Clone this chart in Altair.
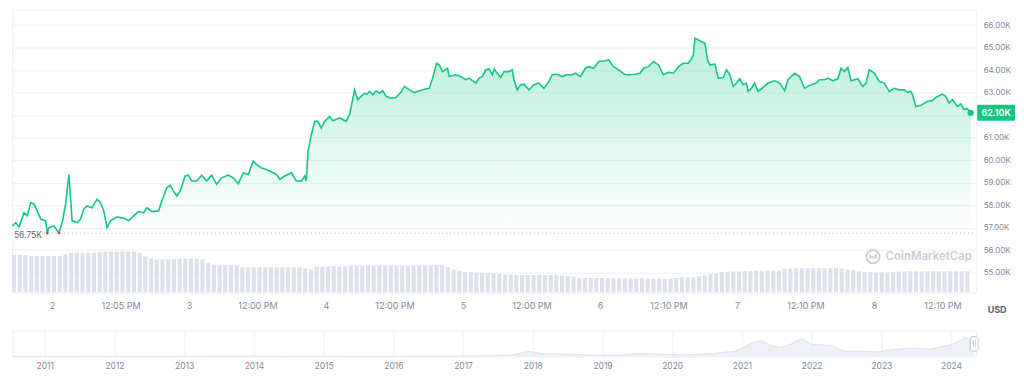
import altair as alt
import pandas as pd

# ---------------- data ----------------
# price: hours since 2 May 00:00, value in thousands of USD
price_hours = [
    -6.9, -6.34, -5.76, -4.89, -4.31, -3.72, -3.14, -2.57, -1.97, -1.10,
    -0.82, -0.52, 0.35, 1.22, 1.80, 2.39, 2.97, 3.54, 4.42, 5.01,
    5.59, 6.16, 7.03, 7.91, 8.50, 9.08, 9.65, 10.25, 11.40, 12.57,
    13.44, 14.31, 15.19, 16.06, 16.63, 17.51, 18.68, 19.25, 20.13, 20.72,
    21.30, 21.87, 22.46, 23.34, 23.91, 24.49, 25.36, 26.24, 27.11, 27.98,
    28.85, 29.73, 30.90, 31.77, 32.64, 33.51, 34.39, 35.26, 35.84, 36.71,
    37.58, 38.45, 39.33, 39.92, 40.79, 41.94, 42.82, 43.69, 44.28, 44.56,
    44.86, 45.44, 46.03, 46.60, 47.18, 47.77, 48.65, 49.22, 50.39, 50.97,
    51.54, 52.14, 53.01, 53.59, 54.16, 54.76, 55.16, 55.63, 56.21, 56.78,
    57.37, 57.95, 58.53, 59.40, 60.27, 61.15, 61.74, 62.61, 63.48, 64.36,
    65.23, 66.10, 66.68, 67.38, 67.85, 68.42, 69.30, 69.59, 70.75, 71.62,
    72.49, 73.08, 74.24, 74.83, 75.41, 75.98, 76.57, 77.15, 77.45, 78.02,
    78.60, 79.19, 80.07, 80.64, 80.94, 81.51, 82.09, 82.68, 83.56, 84.43,
    85.30, 86.18, 87.05, 87.62, 88.50, 89.37, 90.24, 91.11, 91.69, 92.56,
    93.44, 94.03, 94.90, 95.78, 96.93, 97.52, 98.39, 99.27, 100.42, 101.29,
    102.17, 103.04, 103.63, 104.50, 105.38, 106.25, 107.12, 108.00, 108.87, 109.74,
    110.61, 111.49, 112.06, 112.36, 112.64, 113.23, 113.81, 114.38, 114.85, 115.25,
    116.13, 116.72, 117.59, 118.17, 118.75, 119.34, 119.92, 120.49, 121.08, 121.66,
    121.96, 122.54, 123.11, 123.70, 124.58, 125.45, 126.60, 127.48, 128.35, 128.94,
    130.09, 130.96, 131.84, 133.01, 133.88, 134.46, 135.33, 135.92, 136.80, 137.67,
    138.24, 138.82, 139.41, 139.99, 141.16, 142.03, 142.61, 143.18, 144.06, 144.93,
    145.80, 146.67, 147.55, 148.42, 149.29, 149.89, 150.46, 150.76, 151.33, 152.21,
    153.38, 154.25, 154.83, 156.00, 156.58, 157.16, 157.75, 158.62, 159.20, 159.78,
    160.37, 160.94,
]
price_values = [
    57.07, 57.22, 57.03, 57.66, 57.52, 58.11, 58.04, 57.74, 57.38, 57.30,
    56.75, 57.00, 57.07, 56.76, 57.22, 58.05, 59.36, 57.30, 57.22, 57.37,
    57.83, 57.96, 57.88, 58.26, 58.11, 57.74, 57.00, 57.30, 57.47, 57.42,
    57.30, 57.52, 57.71, 57.66, 57.88, 57.71, 57.74, 58.18, 58.77, 58.88,
    58.62, 58.40, 58.62, 59.29, 59.33, 59.07, 59.07, 59.33, 59.07, 59.33,
    58.92, 59.21, 59.33, 59.21, 58.95, 59.43, 59.36, 59.95, 59.81, 59.65,
    59.58, 59.48, 59.36, 59.14, 59.29, 59.43, 59.07, 59.07, 59.29, 59.07,
    60.39, 61.13, 61.72, 61.72, 61.42, 61.72, 61.94, 61.75, 61.87, 61.80,
    61.72, 62.02, 63.12, 62.68, 62.83, 62.97, 62.92, 63.05, 62.90, 63.08,
    62.97, 63.08, 62.83, 62.75, 62.78, 63.02, 63.27, 63.12, 63.00, 63.08,
    63.15, 63.19, 63.64, 64.30, 64.23, 63.93, 64.08, 63.71, 63.79, 63.71,
    63.57, 63.64, 63.42, 63.64, 63.71, 64.01, 64.05, 63.79, 64.05, 63.86,
    63.67, 63.93, 63.93, 64.01, 63.57, 63.12, 63.35, 63.37, 63.12, 63.35,
    63.42, 63.19, 63.49, 63.79, 63.81, 63.71, 63.79, 63.79, 63.86, 63.71,
    64.08, 64.15, 64.08, 64.38, 64.41, 64.45, 64.15, 64.01, 63.79, 63.79,
    63.81, 63.86, 64.08, 64.15, 64.38, 64.23, 63.79, 63.90, 63.86, 64.15,
    64.30, 64.30, 64.52, 64.67, 65.41, 65.34, 65.26, 65.19, 64.45, 64.23,
    64.26, 63.64, 63.67, 64.01, 63.79, 63.27, 63.42, 63.61, 63.35, 63.42,
    63.05, 63.19, 63.42, 63.05, 63.23, 63.42, 63.52, 63.42, 63.08, 63.57,
    63.86, 63.71, 63.19, 63.35, 63.42, 63.57, 63.57, 63.64, 63.52, 63.61,
    64.08, 63.93, 64.11, 63.52, 63.61, 63.27, 63.42, 64.01, 63.86, 63.49,
    63.42, 63.05, 63.19, 63.12, 63.12, 63.02, 63.05, 62.90, 62.38, 62.43,
    62.61, 62.64, 62.78, 62.93, 62.83, 62.53, 62.68, 62.38, 62.49, 62.24,
    62.28, 62.10,
]

# hourly volume (billions USD), one bar per hour from -7h to 160h
vol_hours = list(range(-7, 161))
vol_values = [
    34.3, 34.4, 34.2,
    33.5, 33.4, 33.4, 33.3, 33.4, 33.3,
    35.0, 36.4,
    36.5, 36.4, 36.6, 36.5, 36.7,
    37.2, 37.3, 37.3, 37.4, 37.3, 37.2,
    36.5, 33.0, 31.0, 30.2, 30.0, 30.4,
    30.9, 31.0, 31.2, 31.0, 30.9, 30.5,
    27.5, 25.5,
    25.0, 25.1, 25.0, 24.6,
    23.2, 23.0, 23.1, 23.0, 22.9, 23.0, 23.1, 23.0, 22.9, 23.0, 22.8,
    22.0, 21.0,
    23.6, 23.9, 23.9, 24.0, 23.9, 24.0,
    24.7, 24.8, 24.8, 24.9, 24.8, 24.7, 24.8, 24.9, 24.8, 24.8, 24.7, 24.8, 24.9, 24.8, 25.0,
    25.2, 25.3,
    23.0, 21.0, 19.9, 19.0, 18.6, 18.3, 18.2, 18.0, 17.6, 17.2,
    16.3, 16.2, 16.1, 16.0, 16.1, 16.1, 16.0, 15.9, 16.0, 15.8, 15.6, 15.2,
    14.5, 13.6,
    13.4, 13.3, 13.4, 13.2, 13.1, 13.0, 13.1, 13.0, 13.0, 12.9, 13.0,
    12.9, 12.8, 12.8, 12.7, 12.8, 13.2,
    13.9, 13.9, 14.0,
    14.8, 15.8, 16.8, 17.4,
    18.6, 19.1, 19.2, 19.3,
    19.8, 20.0, 20.1, 20.0, 20.2, 20.1, 20.2,
    21.8, 22.0, 22.1, 22.3, 22.2, 22.3, 22.2, 22.3, 22.2, 22.1,
    22.0, 21.2, 20.8,
    19.5, 18.8, 18.5, 18.4, 18.5, 18.3, 18.6, 18.9,
    19.3, 19.4, 19.4, 19.3, 19.5, 19.4, 19.4, 19.3, 19.4, 19.5, 19.4, 19.4,
]

x_tick_hours = [0, 12, 24, 36, 48, 60, 72, 84, 96, 108, 120, 132, 144, 156]
x_tick_labels = ["2", "12:05 PM", "3", "12:00 PM", "4", "12:00 PM", "5",
                 "12:00 PM", "6", "12:10 PM", "7", "12:10 PM", "8", "12:10 PM"]
y_ticks = [55, 56, 57, 58, 59, 60, 61, 62, 63, 64, 65, 66]
low_value = 56.75
last_value = 62.10
currency = "USD"
brand = "CoinMarketCap"

# navigator (all-time history, thousands USD)
nav_years = [2010.55, 2013.0, 2013.9, 2014.5, 2016.0, 2017.0, 2017.4, 2017.7, 2017.96, 2018.1,
             2018.3, 2018.6, 2018.9, 2019.3, 2019.5, 2019.9, 2020.2, 2020.6, 2020.9, 2021.0,
             2021.1, 2021.28, 2021.4, 2021.55, 2021.7, 2021.85, 2022.0, 2022.3, 2022.45, 2022.8,
             2022.95, 2023.1, 2023.3, 2023.5, 2023.7, 2023.85, 2024.0, 2024.15, 2024.2, 2024.3,
             2024.33]
nav_prices = [0.0, 0.1, 0.8, 0.5, 0.4, 1.0, 2.5, 5.0, 19.0, 11.0,
              9.0, 7.0, 4.0, 5.0, 11.0, 7.5, 6.0, 11.0, 19.0, 29.0,
              45.0, 60.0, 40.0, 33.0, 45.0, 66.0, 45.0, 40.0, 20.0, 19.0,
              16.5, 23.0, 28.0, 30.0, 26.0, 35.0, 43.0, 62.0, 70.0, 65.0,
              62.0]
year_ticks = list(range(2011, 2025))

# ---------------- chart ----------------
W, H = 968, 284
GREEN = "#16c784"
LABEL = "#808a9d"
DARK = "#58667e"

price_df = pd.DataFrame({"h": price_hours, "p": price_values})
vol_df = pd.DataFrame({"h": vol_hours, "v": vol_values})
one = pd.DataFrame({"k": [0]})

label_expr = "[" + ",".join("'%s'" % t for t in x_tick_labels) + "][round(datum.value / 12)]"

x_axis = alt.Axis(values=x_tick_hours, labelExpr=label_expr, grid=False, domain=False,
                  ticks=False, labelPadding=9, labelFontSize=9, labelColor=LABEL,
                  labelFlush=False, labelOverlap=False, title=None)
x_scale = alt.Scale(domain=[-7.0, 161.9], nice=False, zero=False, padding=0)
x_enc = alt.X("h:Q", scale=x_scale, axis=x_axis)

y_scale = alt.Scale(domain=[54.11, 66.68], nice=False, zero=False)
y_axis = alt.Axis(orient="right", values=y_ticks, tickCount=12,
                  labelExpr="datum.value == 62 ? '' : format(datum.value, '.2f') + 'K'",
                  grid=True, gridColor="#eff1f4", domain=False, ticks=False,
                  labelPadding=7, labelFontSize=8, labelColor=LABEL,
                  labelOverlap=False, title=None)
y_enc = alt.Y("p:Q", scale=y_scale, axis=y_axis)


def ydatum(v):
    return alt.YDatum(v, scale=y_scale, axis=y_axis)


grad = alt.Gradient(
    gradient="linear",
    stops=[alt.GradientStop(color="rgba(22,199,132,0.30)", offset=0),
           alt.GradientStop(color="rgba(22,199,132,0.0)", offset=1)],
    x1=0, x2=0, y1=0, y2=1,
)

area = alt.Chart(price_df).mark_area(color=grad).encode(
    x=x_enc, y=y_enc, y2=alt.Y2Datum(low_value))
line = alt.Chart(price_df).mark_line(color=GREEN, strokeWidth=1.6).encode(x=x_enc, y=y_enc)

low_rule = alt.Chart(one).mark_rule(color="#a5acb9", strokeDash=[1, 3], strokeWidth=1).encode(
    y=ydatum(low_value), x=alt.value(32), x2=alt.value(W))
low_text = alt.Chart(one).mark_text(align="left", baseline="middle", fontSize=8.5,
                                    color=DARK, dy=2).encode(
    x=alt.value(2), y=ydatum(low_value), text=alt.value("%.2fK" % low_value))
low_pts = alt.Chart(price_df[price_df.p <= low_value + 0.015]).mark_circle(
    color="#ea3943", size=6, opacity=1).encode(x=x_enc, y=y_enc)

end_pt = alt.Chart(price_df.tail(1)).mark_circle(color=GREEN, size=40, opacity=1).encode(
    x=x_enc, y=y_enc)

tag_rect = alt.Chart(one).mark_rect(color=GREEN, cornerRadius=1).encode(
    x=alt.value(W + 1), x2=alt.value(W + 39),
    y=ydatum(last_value + 0.354), y2=alt.Y2Datum(last_value - 0.354))
tag_text = alt.Chart(one).mark_text(color="white", fontSize=9, fontWeight=600,
                                    align="center", baseline="middle").encode(
    x=alt.value(W + 20), y=ydatum(last_value), text=alt.value("%.2fK" % last_value))

usd = alt.Chart(one).mark_text(color=DARK, fontSize=9, fontWeight="bold",
                               align="center", baseline="middle").encode(
    x=alt.value(989), y=alt.value(301), text=alt.value(currency))

wm_text = alt.Chart(one).mark_text(color="#c9ced8", fontSize=11.5, fontWeight=600,
                                   align="left", baseline="middle").encode(
    x=alt.value(877), y=alt.value(248), text=alt.value(brand))
wm_circle = alt.Chart(one).mark_point(shape="circle", size=175, filled=False,
                                      strokeWidth=1.8, color="#c9ced8", opacity=1).encode(
    x=alt.value(864.5), y=alt.value(248))
wm_m = alt.Chart(one).mark_point(
    shape="M-0.7,0.45 L-0.7,-0.35 L0,0.3 L0.7,-0.35 L0.7,0.45",
    size=70, filled=False, strokeWidth=1.6, color="#c9ced8", opacity=1).encode(
    x=alt.value(864.5), y=alt.value(248))

# each hourly bar spans [h, h + 0.72] so nothing spills left of the plot
volume = alt.Chart(vol_df).transform_calculate(h2="datum.h + 0.72").mark_bar(
    color="#dde1ec", clip=True, orient="vertical").encode(
    x=x_enc,
    x2="h2:Q",
    y=alt.Y("v:Q", scale=alt.Scale(domain=[0, 258], nice=False), axis=None),
    y2=alt.Y2Datum(0),
)

price_layer = alt.layer(area, line, low_rule, low_text, low_pts, end_pt,
                        tag_rect, tag_text, usd, wm_circle, wm_m, wm_text)

top = alt.layer(volume, price_layer).resolve_scale(y="independent").properties(
    width=W, height=H)

nav_df = pd.DataFrame({"year": nav_years, "price": nav_prices})
nav_x = alt.X("year:Q", scale=alt.Scale(domain=[2010.53, 2024.36], nice=False, zero=False,
                                        padding=0),
              axis=alt.Axis(values=year_ticks, format="d", grid=True, gridColor="#f1f3f6",
                            domain=False, ticks=False, labelPadding=5, labelFontSize=8.5,
                            labelColor=LABEL, labelOverlap=False, title=None))
nav_area = alt.Chart(nav_df).mark_area(color="#e6e9ef",
                                       line={"color": "#d9dde5", "strokeWidth": 0.8}).encode(
    x=nav_x, y=alt.Y("price:Q", scale=alt.Scale(domain=[0, 96], nice=False), axis=None))
handle = alt.Chart(one).mark_rect(fill="white", stroke="#bfc5d0", strokeWidth=1,
                                  cornerRadius=3).encode(
    x=alt.value(962), x2=alt.value(970), y=alt.value(6), y2=alt.value(21))
handle_txt = alt.Chart(one).mark_text(fontSize=6, color="#a0a7b5", align="center",
                                      baseline="middle").encode(
    x=alt.value(966), y=alt.value(13.5), text=alt.value("||"))
nav = alt.layer(nav_area, handle, handle_txt).properties(width=W, height=26)

chart = alt.vconcat(top, nav, spacing=14).properties(
    padding={"left": 0, "top": 0, "right": 0, "bottom": 0}
).configure(font="Inter").configure_view(stroke="#eceff3")

chart.save("out.html", embed_options={"renderer": "svg", "actions": False})
